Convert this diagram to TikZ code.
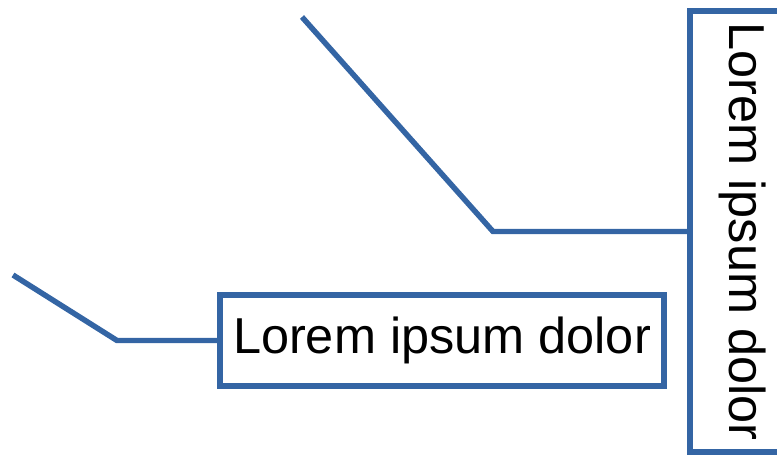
\documentclass[tikz,border=0pt]{standalone}
\usepackage{fontspec}
\setmainfont{Liberation Sans}
\usepackage{graphicx}
\usetikzlibrary{positioning}

\definecolor{lineblue}{HTML}{3465A4}

\tikzset{
    labelbox/.style={draw=lineblue, line width=3.9pt, inner sep=0pt, align=center, font=\fontsize{35.9}{40}\selectfont},
    leader/.style={draw=lineblue, line width=3.9pt, line join=miter}
}

\begin{document}
\begin{tikzpicture}
\useasboundingbox (0,0) rectangle (19.425,11.475);

\node[labelbox, minimum width=2.65cm, minimum height=11.025cm] (vbox) at (18.575, 5.6875) {\rotatebox{-90}{Lorem ipsum dolor}};
\node[labelbox, minimum width=11.1cm, minimum height=2.275cm] (hbox) at (11.05, 2.9625) {Lorem ipsum dolor};

\coordinate (vstart) at (7.55, 11.05);
\coordinate (vknee) at (12.325, 5.6875);
\coordinate (hstart) at (0.325, 4.6);
\coordinate (hknee) at (2.925, 2.9625);

\draw[leader] (vstart) -- (vknee) -- (vbox.west);
\draw[leader] (hstart) -- (hknee) -- (hbox.west);

\end{tikzpicture}
\end{document}
